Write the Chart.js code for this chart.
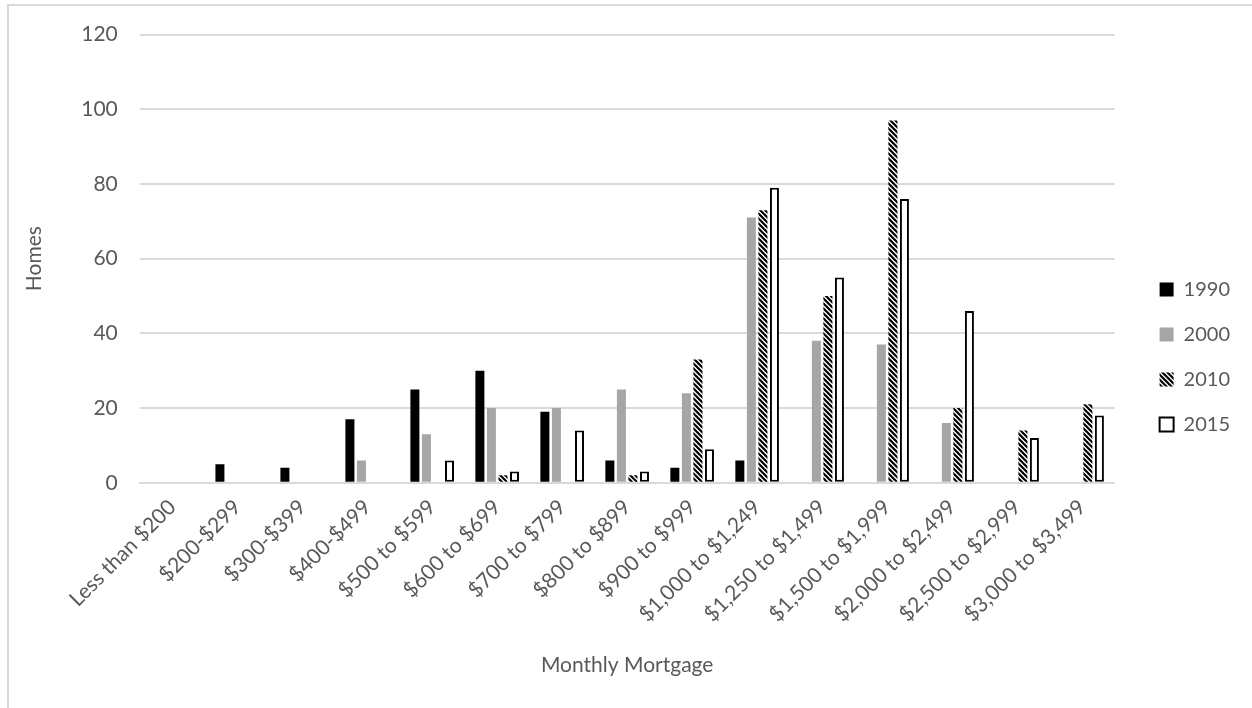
<!DOCTYPE html>
<html>
<head>
<meta charset="utf-8">
<script src="https://cdn.jsdelivr.net/npm/chart.js@4/dist/chart.umd.min.js"></script>
<style>
  html, body { margin: 0; padding: 0; background: #fff; overflow: hidden; }
  #frame { position: absolute; left: 7px; top: 4px; width: 1300px; height: 760px; border: 2px solid #d9d9d9; }
  #wrap { position: absolute; left: 0; top: 0; width: 1252px; height: 708px; }
</style>
</head>
<body>
<div id="frame"></div>
<div id="wrap"><canvas id="mortgageChart" width="1252" height="708"></canvas></div>
<script>
const categories = ['Less than $200', '$200-$299', '$300-$399', '$400-$499', '$500 to $599', '$600 to $699',
    '$700 to $799', '$800 to $899', '$900 to $999', '$1,000 to $1,249', '$1,250 to $1,499',
    '$1,500 to $1,999', '$2,000 to $2,499', '$2,500 to $2,999', '$3,000 to $3,499'];
const homes1990 = [0, 5, 4, 17, 25, 30, 19, 6, 4, 6, 0, 0, 0, 0, 0];
const homes2000 = [0, 0, 0, 6, 13, 20, 20, 25, 24, 71, 38, 37, 16, 0, 0];
const homes2010 = [0, 0, 0, 0, 0, 2, 0, 2, 33, 73, 50, 97, 20, 14, 21];
const homes2015 = [0, 0, 0, 0, 6, 3, 14, 3, 9, 79, 55, 76, 46, 12, 18];
const yTicks = [0, 20, 40, 60, 80, 100, 120];

const ctx = document.getElementById('mortgageChart').getContext('2d');

// black/white diagonal stripes for 2010
function stripes() {
    const c = document.createElement('canvas');
    c.width = 5; c.height = 5;
    const g = c.getContext('2d');
    g.fillStyle = '#fff';
    g.fillRect(0, 0, 5, 5);
    g.strokeStyle = '#000';
    g.lineWidth = 2.2;
    g.beginPath();
    g.moveTo(-1, -1); g.lineTo(6, 6);
    g.moveTo(-4, 1); g.lineTo(1, 6);
    g.moveTo(4, -1); g.lineTo(6, 1);
    g.stroke();
    return ctx.createPattern(c, 'repeat');
}

// nudge the legend a bit right/down, like the excel one
const legendShift = {
    id: 'legendShift',
    afterLayout(chart) {
        const lg = chart.legend;
        lg.left += 20; lg.right += 20;
        lg.top += 4; lg.bottom += 4;
    }
};

const font = 'Lato';
const grey = '#595959';

new Chart(ctx, {
    type: 'bar',
    data: {
        labels: categories,
        datasets: [
            { label: '1990', data: homes1990, backgroundColor: '#000', borderWidth: 0 },
            { label: '2000', data: homes2000, backgroundColor: '#a6a6a6', borderWidth: 0 },
            { label: '2010', data: homes2010, backgroundColor: stripes(), borderWidth: 0 },
            { label: '2015', data: homes2015, backgroundColor: '#fff', borderColor: '#000', borderWidth: 2, borderSkipped: false }
        ]
    },
    options: {
        responsive: false,
        animation: false,
        categoryPercentage: 0.71,
        barPercentage: 0.78,
        layout: { padding: { left: 18, top: 24, right: 32, bottom: 26 } },
        plugins: {
            legend: {
                position: 'right',
                labels: { font: { family: font, size: 20 }, color: grey, boxWidth: 14, boxHeight: 14, padding: 25 }
            },
            tooltip: { enabled: false }
        },
        scales: {
            x: {
                grid: { display: false },
                border: { color: '#d9d9d9', width: 2 },
                ticks: { font: { family: font, size: 21 }, color: grey, minRotation: 45, maxRotation: 45, autoSkip: false, padding: 4 },
                title: { display: true, text: 'Monthly Mortgage', font: { family: font, size: 21 }, color: grey, padding: { top: 22 } }
            },
            y: {
                min: 0, max: 120,
                afterBuildTicks: axis => { axis.ticks = yTicks.map(v => ({ value: v })); },
                grid: { color: '#d9d9d9', lineWidth: 2, drawTicks: false },
                border: { display: false },
                ticks: { font: { family: font, size: 21 }, color: grey, padding: 22 },
                title: { display: true, text: 'Homes', font: { family: font, size: 21 }, color: grey, padding: { bottom: 12 } }
            }
        }
    },
    plugins: [legendShift]
});
</script>
</body>
</html>
